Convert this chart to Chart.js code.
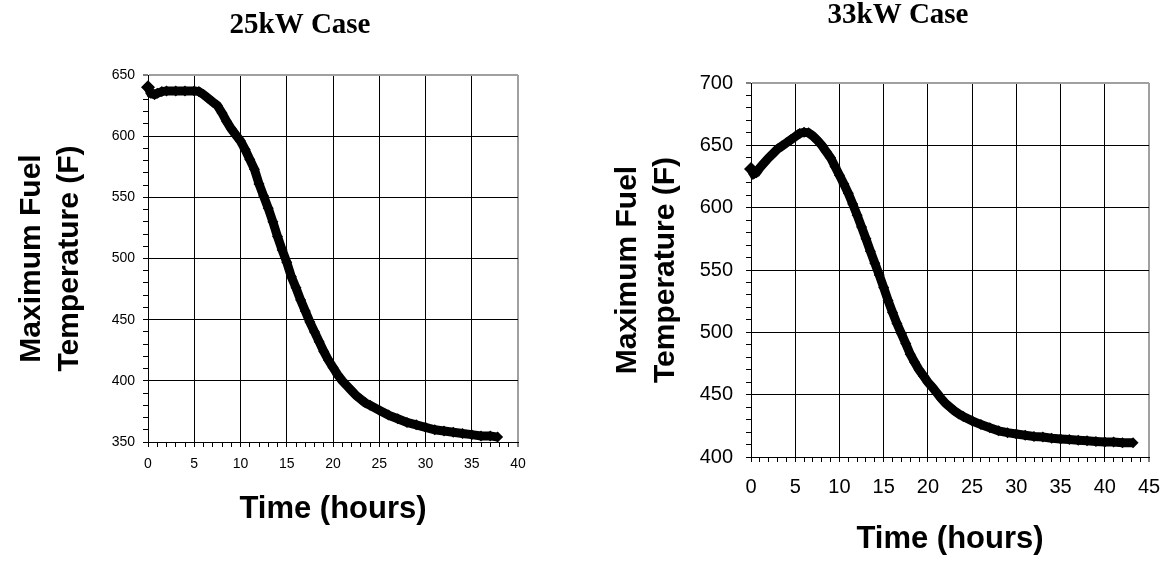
<!DOCTYPE html>
<html><head><meta charset="utf-8">
<script src="https://cdn.jsdelivr.net/npm/chart.js@4.4.1/dist/chart.umd.min.js"></script>
<style>
html,body{margin:0;padding:0;background:#fff;width:1169px;height:562px;overflow:hidden}
.box{position:absolute;top:0;height:562px}
#b1{left:0;width:584px}
#b2{left:584px;width:585px}
</style></head><body>
<div class="box" id="b1"><canvas id="c1"></canvas></div>
<div class="box" id="b2"><canvas id="c2"></canvas></div>
<script>
// ---- text ----
const title25 = '25kW Case';
const title33 = '33kW Case';
const yAxisTitle = ['Maximum Fuel', 'Temperature (F)'];
const xAxisTitle = 'Time (hours)';

// ---- tick labels ----
const xLabels25 = [0, 5, 10, 15, 20, 25, 30, 35, 40];
const yLabels25 = [350, 400, 450, 500, 550, 600, 650];
const xLabels33 = [0, 5, 10, 15, 20, 25, 30, 35, 40, 45];
const yLabels33 = [400, 450, 500, 550, 600, 650, 700];

// ---- 25 kW case ----
const time25 = [0, 0.3, 0.7, 1, 1.5, 2, 3, 4, 5, 5.5, 6, 6.5, 7, 7.5, 8, 8.5, 9, 9.5, 10, 10.5,
  11, 11.5, 12, 12.5, 13, 13.5, 14, 14.5, 15, 15.5, 16, 16.5, 17, 17.5, 18, 18.5, 19, 19.5, 20, 20.5,
  21, 21.5, 22, 22.5, 23, 23.5, 24, 25, 26, 27, 28, 29, 30, 31, 32, 33, 34, 35, 36, 37, 37.8];
const temp25 = [640, 635, 634, 635, 636.5, 637, 637, 637, 637, 636.5, 634, 631, 628, 625, 619, 612, 606, 601, 596, 589,
  581, 573, 561, 551, 541, 530, 518, 507, 497, 485, 476, 466, 457, 448, 440, 432, 424, 417, 411, 405,
  400, 396, 392, 388, 385, 382, 380, 376, 372, 369, 366, 364, 362, 360, 359, 358, 357, 356, 355, 355, 354];

// ---- 33 kW case ----
const time33 = [0, 0.3, 0.6, 1, 1.5, 2, 2.5, 3, 3.5, 4, 4.5, 5, 5.5, 6, 6.5, 7, 7.5, 8, 8.5, 9, 9.5, 10,
  10.5, 11, 11.5, 12, 12.5, 13, 13.5, 14, 14.5, 15, 15.5, 16, 16.5, 17, 17.5, 18, 18.5, 19, 19.5, 20,
  20.5, 21, 21.5, 22, 22.5, 23, 23.5, 24, 25, 26, 27, 28, 29, 30, 31, 32, 33, 34, 35, 36, 37, 38, 39,
  40, 41, 42, 43.2];
const temp33 = [631, 627, 628, 632, 636, 640, 643.5, 647, 649.5, 652, 654.5, 657, 659.5, 660.5, 660, 657.5, 654, 650, 645, 640, 633, 626,
  619, 611.5, 603, 594, 584.5, 575, 565, 555.5, 546, 536, 525.5, 516, 507, 499, 491, 482.5, 476, 470, 465, 460,
  456, 451.5, 447, 443, 440, 437, 434.5, 432.5, 429, 426, 423.5, 421, 419.5, 418.5, 417.5, 416.5, 416, 415, 414.5, 414, 413.5, 413, 412.5,
  412, 412, 411.5, 411.5];

Chart.defaults.font.family = "'Liberation Sans', Arial, sans-serif";
Chart.defaults.color = '#000';

function pts(xs, ys) { return xs.map((x, i) => ({x: x, y: ys[i]})); }

function makeChart(id, g) {
  const xMin = g.xLabels[0], xMax = g.xLabels[g.xLabels.length - 1];
  const yMin = g.yLabels[0], yMax = g.yLabels[g.yLabels.length - 1];
  const gridColor = (max) => (c) => {
    const v = c.tick ? c.tick.value : null;
    if (v === null) return 'transparent';
    if (Math.abs(v - max) < 1e-9) return '#a0a0a0';
    return g.isLabel(c, v) ? '#000' : 'transparent';
  };
  const titlePlugin = {
    id: 'topTitle',
    afterDraw(chart) {
      const ctx = chart.ctx;
      ctx.save();
      ctx.font = "bold 29px 'Liberation Serif', 'Times New Roman', serif";
      ctx.fillStyle = '#000';
      ctx.textAlign = 'center';
      ctx.textBaseline = 'alphabetic';
      ctx.fillText(g.title, g.titleX, g.titleY);
      ctx.restore();
    }
  };
  return new Chart(document.getElementById(id), {
    type: 'line',
    data: {
      datasets: [{
        data: pts(g.xs, g.ys),
        borderColor: '#000',
        backgroundColor: '#000',
        borderWidth: 9,
        pointStyle: 'rectRot',
        pointRadius: (c) => c.dataIndex === 0 ? 7 : 5.5,
        pointBorderWidth: 0,
        pointBackgroundColor: '#000',
        tension: 0,
        clip: false
      }]
    },
    plugins: [titlePlugin],
    options: {
      responsive: true,
      maintainAspectRatio: false,
      animation: false,
      devicePixelRatio: 1,
      layout: {padding: {left: 0, right: g.padRight, top: g.padTop, bottom: 0}},
      plugins: {legend: {display: false}, tooltip: {enabled: false}, title: {display: false}},
      scales: {
        x: {
          type: 'linear', min: xMin, max: xMax,
          afterBuildTicks: (s) => { const t = []; for (let v = xMin; v <= xMax; v += 1) t.push({value: v}); s.ticks = t; },
          afterFit: (s) => { s.height = g.xHeight; },
          border: {color: '#000', width: 1},
          grid: {
            color: gridColor(xMax),
            lineWidth: (c) => (c.tick && c.tick.value === xMax) ? 2 : 1,
            tickColor: '#000', tickLength: 5, tickWidth: 1
          },
          ticks: {
            autoSkip: false, maxRotation: 0, padding: 2,
            font: {size: g.tickFont, lineHeight: g.xTickLH},
            callback: (v) => g.xLabels.includes(v) ? String(v) : ''
          },
          title: {display: true, text: xAxisTitle, font: {size: 31, weight: 'bold', lineHeight: 1.2}, padding: {top: 0, bottom: g.xTitlePad}}
        },
        y: {
          type: 'linear', min: yMin, max: yMax,
          afterBuildTicks: (s) => { const t = []; for (let v = yMin; v <= yMax; v += 10) t.push({value: v}); s.ticks = t; },
          afterFit: (s) => { s.width = g.yWidth; },
          border: {color: '#000', width: 1},
          grid: {
            color: gridColor(yMax),
            lineWidth: (c) => (c.tick && c.tick.value === yMax) ? 2 : 1,
            tickColor: '#000', tickLength: 5, tickWidth: 1
          },
          ticks: {
            autoSkip: false, padding: g.yTickPad,
            font: {size: g.tickFont},
            callback: (v) => g.yLabels.includes(v) ? String(v) : ''
          },
          title: {display: true, text: yAxisTitle, font: {size: 30, weight: 'bold', lineHeight: 1.25}, padding: {top: g.yTitlePad, bottom: 0}}
        }
      }
    }
  });
}

makeChart('c1', {
  xs: time25, ys: temp25, xLabels: xLabels25, yLabels: yLabels25,
  isLabel: (c, v) => (c.scale.isHorizontal() ? xLabels25 : yLabels25).includes(v),
  title: title25, titleX: 300, titleY: 33,
  padRight: 66, padTop: 75, xHeight: 120, yWidth: 148,
  tickFont: 14, xTickLH: 2.14, yTickPad: 8, xTitlePad: 34.4, yTitlePad: 13.4
});
makeChart('c2', {
  xs: time33, ys: temp33, xLabels: xLabels33, yLabels: yLabels33,
  isLabel: (c, v) => (c.scale.isHorizontal() ? xLabels33 : yLabels33).includes(v),
  title: title33, titleX: 314, titleY: 23,
  padRight: 20, padTop: 83, xHeight: 105, yWidth: 167,
  tickFont: 20, xTickLH: 2.35, yTickPad: 13, xTitlePad: 4.4, yTitlePad: 25.4
});
</script>
</body></html>
